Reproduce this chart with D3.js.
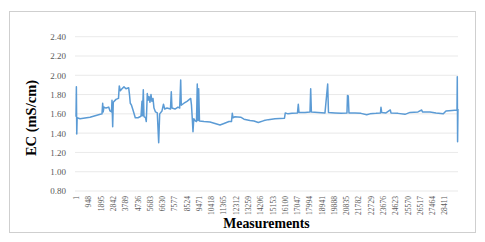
<!DOCTYPE html>
<meta charset="utf-8" />
<script src="https://d3js.org/d3.v7.min.js"></script>
<style>
  body { margin: 0; background: #fff; }
  text { font-family: "Liberation Serif", "Times New Roman", serif; }
</style>
<div id="chart"></div>
<script>
  const measurement = [
    1, 30, 60, 90, 309, 1080, 1875, 2006, 2060, 2100, 2160, 2315, 2523, 2624, 2740,
    2778, 2832, 2878, 3087, 3280, 3341, 3419, 3550, 3704, 3858, 4067, 4129, 4190,
    4283, 4399, 4576, 4785, 5016, 5093, 5132, 5194, 5248, 5363, 5425, 5502, 5556,
    5633, 5711, 5788, 5865, 5942, 6019, 6135, 6274, 6382, 6459, 6636, 6752, 6845,
    7022, 7292, 7354, 7408, 7640, 7871, 8002, 8080, 8126, 8334, 8566, 8851, 8913,
    8975, 9029, 9091, 9183, 9299, 9360, 9414, 9468, 9530, 9878, 10341, 10727, 11112,
    11421, 11807, 12000, 12062, 12116, 12270, 12710, 12965, 13428, 13736, 14068,
    14508, 14840, 15357, 16090, 16152, 16360, 16669, 17093, 17155, 17209, 17672,
    18058, 18112, 18166, 18675, 19215, 19423, 19485, 19987, 20450, 20913, 20952,
    21013, 21067, 21530, 21993, 22433, 22688, 23151, 23498, 23537, 23591, 23923,
    24255, 24309, 24849, 25389, 25775, 26392, 26678, 26740, 27318, 27781, 28345,
    28553, 29016, 29402, 29425, 29448, 29478
  ];
  const ec = [
    1.57, 1.88, 1.39, 1.56, 1.55, 1.565, 1.595, 1.60, 1.71, 1.62, 1.67, 1.66, 1.67, 1.63, 1.62,
    1.74, 1.467, 1.72, 1.75, 1.76, 1.89, 1.84, 1.86, 1.88, 1.86, 1.87, 1.80, 1.71,
    1.69, 1.64, 1.56, 1.56, 1.575, 1.73, 1.58, 1.85, 1.57, 1.56, 1.52, 1.81, 1.74,
    1.78, 1.72, 1.80, 1.73, 1.76, 1.66, 1.62, 1.61, 1.30, 1.60, 1.63, 1.70, 1.65,
    1.66, 1.65, 1.83, 1.66, 1.65, 1.67, 1.66, 1.95, 1.69, 1.71, 1.73, 1.76, 1.69,
    1.55, 1.415, 1.55, 1.53, 1.52, 1.91, 1.53, 1.86, 1.525, 1.52, 1.515, 1.50, 1.485,
    1.50, 1.52, 1.52, 1.606, 1.56, 1.57, 1.565, 1.545, 1.53, 1.525, 1.51,
    1.53, 1.54, 1.55, 1.555, 1.61, 1.60, 1.605, 1.61, 1.70, 1.615, 1.615,
    1.62, 1.86, 1.62, 1.615, 1.61, 1.91, 1.615, 1.61, 1.605, 1.61, 1.79,
    1.785, 1.61, 1.61, 1.605, 1.59, 1.60, 1.605, 1.61, 1.668, 1.615, 1.61,
    1.64, 1.61, 1.605, 1.595, 1.615, 1.62, 1.64, 1.62, 1.62, 1.61, 1.60,
    1.63, 1.635, 1.64, 1.985, 1.31, 1.65
  ];
  const xTicks = [
    1, 948, 1895, 2842, 3789, 4736, 5683, 6630, 7577, 8524, 9471, 10418, 11365,
    12312, 13259, 14206, 15153, 16100, 17047, 17994, 18941, 19888, 20835, 21782,
    22729, 23676, 24623, 25570, 26517, 27464, 28411
  ];
  const yTicks = [0.8, 1.0, 1.2, 1.4, 1.6, 1.8, 2.0, 2.2, 2.4];

  const data = measurement.map((m, i) => ({ m: m, v: ec[i] }));

  const W = 485, H = 242;
  const svg = d3.select("#chart").append("svg")
    .attr("width", W).attr("height", H);

  // outer frame
  svg.append("rect")
    .attr("x", 9.5).attr("y", 11.5)
    .attr("width", 466).attr("height", 221)
    .attr("fill", "#fff")
    .attr("stroke", "#cfcfcf");

  const x = d3.scaleLinear().domain([1, 29480]).range([76, 458]);
  const y = d3.scaleLinear().domain([0.8, 2.4]).range([191, 36.7]);

  // gridlines
  svg.append("g")
    .selectAll("line")
    .data(yTicks)
    .join("line")
    .attr("x1", 75).attr("x2", 458)
    .attr("y1", d => y(d)).attr("y2", d => y(d))
    .attr("stroke", "#e3e3e3")
    .attr("stroke-width", 0.8);

  // y axis labels
  const yAxis = svg.append("g")
    .attr("transform", "translate(68,0)")
    .call(d3.axisLeft(y).tickValues(yTicks).tickFormat(d3.format(".2f")).tickSize(0).tickPadding(2));
  yAxis.select(".domain").remove();
  yAxis.selectAll("text")
    .style("font-family", "'Liberation Serif', serif")
    .style("font-size", "9px")
    .style("fill", "#595959");

  // x axis labels
  const xAxis = svg.append("g")
    .attr("transform", "translate(0,196)")
    .call(d3.axisBottom(x).tickValues(xTicks).tickFormat(d3.format("d")).tickSize(0));
  xAxis.select(".domain").remove();
  xAxis.selectAll("text")
    .style("font-family", "'Liberation Serif', serif")
    .style("font-size", "7.6px")
    .style("fill", "#595959")
    .style("text-anchor", "end")
    .attr("x", 0)
    .attr("y", 0)
    .attr("dy", "0.35em")
    .attr("transform", "rotate(-90)");

  // the series
  const line = d3.line().x(d => x(d.m)).y(d => y(d.v));
  svg.append("path")
    .datum(data)
    .attr("d", line)
    .attr("fill", "none")
    .attr("stroke", "#5b9bd5")
    .attr("stroke-width", 1.5)
    .attr("stroke-linejoin", "round");

  // axis titles
  svg.append("text")
    .attr("transform", "translate(35.5,118) rotate(-90)")
    .attr("text-anchor", "middle")
    .style("font-size", "14.5px")
    .style("font-weight", "bold")
    .style("fill", "#000")
    .text("EC (mS/cm)");

  svg.append("text")
    .attr("x", 266.5).attr("y", 227.5)
    .attr("text-anchor", "middle")
    .style("font-size", "13.8px")
    .style("font-weight", "bold")
    .style("fill", "#000")
    .text("Measurements");
</script>
